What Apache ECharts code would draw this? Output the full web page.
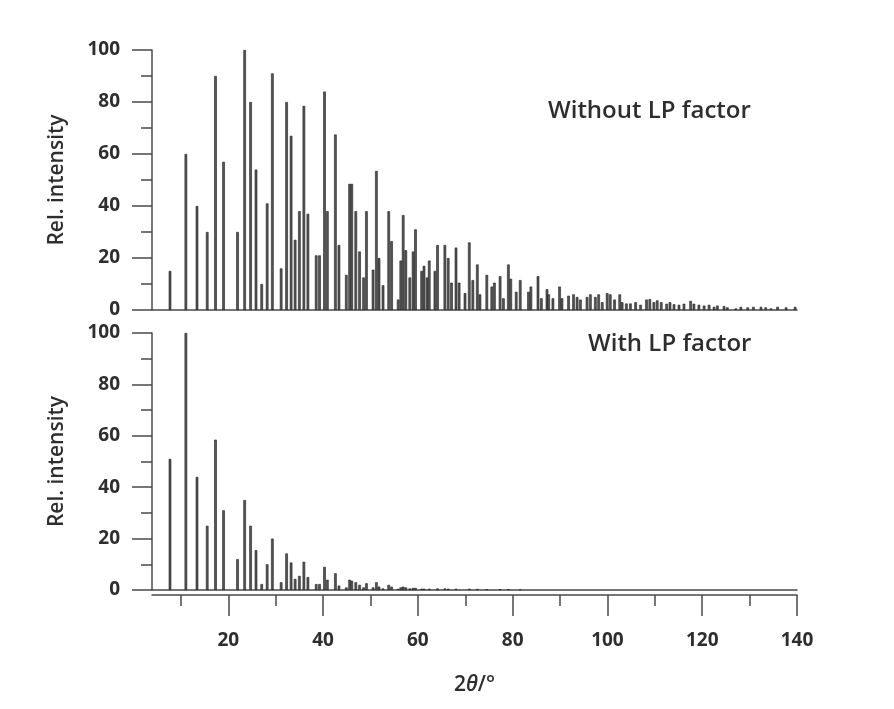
<!DOCTYPE html>
<html>
<head>
<meta charset="utf-8">
<script src="https://cdn.jsdelivr.net/npm/echarts@6/dist/echarts.min.js"></script>
<style>
html, body { margin: 0; padding: 0; background: #fff; }
#chart { width: 894px; height: 709px; }
</style>
</head>
<body>
<div id="chart"></div>
<script>
// peak positions (2theta / deg) and relative intensities
var theta = [7.7, 11.05, 13.4, 15.55, 17.3, 19.0, 21.95, 23.45, 24.7, 25.85, 27.05, 28.2, 29.3,
  31.15, 32.3, 33.25, 34.1, 35.0, 35.95, 36.8, 38.55, 39.25, 40.3, 40.9, 42.6, 43.35, 44.9,
  45.6, 46.05, 46.9, 47.7, 48.55, 49.15, 50.55, 51.25, 51.8, 52.65, 53.85, 54.45, 55.85, 56.4,
  56.9, 57.45, 58.3, 59.0, 59.5, 60.8, 61.3, 61.95, 62.4, 63.6, 64.15, 65.7, 66.4, 67.1, 68.05,
  68.7, 69.95, 70.85, 71.6, 72.55, 73.1, 74.55, 75.6, 76.15, 77.35, 78.05, 79.1, 79.6, 80.75,
  81.6, 83.35, 83.85, 85.35, 86.05, 87.25, 87.6, 88.5, 89.9, 90.4, 91.8, 92.85, 93.6, 94.3,
  95.7, 96.4, 97.45, 98.15, 98.9, 99.95, 100.6, 101.5, 102.6, 103.1, 104.0, 104.85, 105.95,
  107.0, 108.25, 108.95, 109.8, 110.5, 111.35, 112.5, 113.2, 114.05, 115.1, 116.15, 117.55,
  118.25, 119.3, 120.4, 121.45, 122.5, 123.2, 124.6, 125.3, 127.1, 128.15, 129.6, 130.8,
  132.4, 133.4, 134.5, 135.9, 137.7, 139.6];

var relNoLP = [15, 60, 40, 30, 90, 57, 30, 100, 80, 54, 10, 41, 91,
  16, 80, 67, 27, 38, 78.5, 37, 21, 21, 84, 38, 67.5, 25, 13.5,
  48.5, 48.5, 38, 22.5, 12.5, 38, 15.5, 53.5, 20, 9.5, 38, 26.5, 4, 19,
  36.5, 23, 12.5, 22.5, 31, 15, 17, 12.5, 19, 15, 25, 25, 20, 10.5, 24,
  10.5, 6.5, 26, 11.5, 17.5, 6, 13.5, 9, 10.5, 13, 4.5, 17.5, 12, 7,
  11.5, 7, 9, 13, 4.5, 8, 6, 4.5, 9, 4.5, 5.5, 6, 5, 4,
  5, 6, 5, 6, 3, 6.5, 6, 4, 6, 3, 2.5, 2.5, 3,
  2, 4, 4.2, 3, 3.7, 3, 2.4, 3, 2.2, 2, 2.4, 3.5,
  2.4, 2, 1.7, 2, 1.2, 1.7, 1.5, 1, 0.6, 1.2, 1, 1.2,
  1.2, 1, 0.6, 1.2, 1, 1.2];

var lpTheta = [7.7, 11.05, 13.4, 15.55, 17.3, 19.0, 21.95, 23.45, 24.7, 25.85, 27.05, 28.2, 29.3,
  31.15, 32.3, 33.25, 34.1, 35.0, 35.95, 36.8, 38.55, 39.25, 40.3, 40.9, 42.6, 43.35, 44.9,
  45.6, 46.05, 46.9, 47.7, 48.55, 49.15, 50.55, 51.25, 51.8, 52.65, 53.85, 54.45, 55.85, 56.4,
  56.9, 57.45, 58.3, 59.0, 59.5, 60.8, 61.3, 62.4, 64.15, 65.7, 66.4, 68.05, 70.85, 72.55,
  74.55, 77.35, 79.1, 81.6];

var relLP = [51, 100, 44, 25, 58.5, 31, 12, 35, 25, 15.5, 2.3, 10, 20,
  3, 14.2, 10.7, 4.3, 5.5, 11, 5, 2.3, 2.3, 9, 4, 6.5, 1.7, 1,
  4, 3.6, 3, 2, 1, 2.6, 1, 3, 1.3, 0.6, 2, 1.3, 0.4, 1,
  1.3, 1, 0.6, 0.8, 0.8, 0.5, 0.5, 0.5, 0.6, 0.6, 0.5, 0.5, 0.5, 0.4,
  0.3, 0.3, 0.3, 0.2];

var xMajor = [20, 40, 60, 80, 100, 120, 140];
var xMinor = [10, 30, 50, 70, 90, 110, 130];

var chart = echarts.init(document.getElementById('chart'));

var ink = '#2e2e2e';
var axisCol = '#4a4a4a';
var xMin = 3.9, xMax = 140;

function pairs(xs, ys) {
  return xs.map(function (x, i) { return [x, ys[i]]; });
}

function yAxisOf(idx) {
  return {
    gridIndex: idx,
    type: 'value',
    position: 'left',
    min: 0,
    max: 100,
    interval: 20,
    name: 'Rel. intensity',
    nameLocation: 'middle',
    nameGap: 84,
    nameTextStyle: { fontFamily: 'Open Sans', fontWeight: 600, fontSize: 21, color: ink },
    axisLine: { show: true, lineStyle: { color: axisCol, width: 1.5 } },
    axisTick: { show: true, length: 20, lineStyle: { color: axisCol, width: 1.5 } },
    minorTick: { show: true, splitNumber: 2, length: 11, lineStyle: { color: axisCol, width: 1.5 } },
    axisLabel: { margin: 32, fontFamily: 'Open Sans', fontWeight: 700, fontSize: 19, color: ink },
    splitLine: { show: false }
  };
}

var plainX = function (idx) {
  return {
    gridIndex: idx, type: 'value', position: 'bottom', min: xMin, max: xMax,
    axisLine: { show: true, onZero: false, lineStyle: { color: axisCol, width: 1.5 } },
    axisTick: { show: false }, axisLabel: { show: false }, splitLine: { show: false }
  };
};

var stickStyle = { color: '#555', borderColor: '#222', borderWidth: 0.6 };

var option = {
  backgroundColor: '#fff',
  animation: false,
  title: [
    { text: 'Without LP factor', left: 543, top: 94,
      textStyle: { fontFamily: 'Open Sans', fontWeight: 600, fontSize: 24, color: ink } },
    { text: 'With LP factor', left: 583, top: 327,
      textStyle: { fontFamily: 'Open Sans', fontWeight: 600, fontSize: 24, color: ink } }
  ],
  grid: [
    { left: 152, top: 50, width: 645, height: 260 },
    { left: 152, top: 333, width: 645, height: 257 }
  ],
  xAxis: [
    plainX(0),
    plainX(1),
    {
      gridIndex: 1, type: 'value', position: 'bottom', min: xMin, max: xMax, offset: 5,
      name: '2{i|θ}/°',
      nameLocation: 'middle',
      nameGap: 80,
      nameTextStyle: {
        fontFamily: 'Open Sans', fontWeight: 600, fontSize: 21, color: ink,
        rich: { i: { fontFamily: 'Open Sans', fontStyle: 'italic', fontWeight: 600, fontSize: 21, color: ink } }
      },
      axisLine: { show: true, onZero: false, lineStyle: { color: axisCol, width: 1.5 } },
      axisTick: { show: true, length: 21, customValues: xMajor, lineStyle: { color: axisCol, width: 1.5 } },
      axisLabel: { customValues: xMajor, margin: 36, fontFamily: 'Open Sans', fontWeight: 700, fontSize: 19, color: ink },
      splitLine: { show: false }
    },
    {
      gridIndex: 1, type: 'value', position: 'bottom', min: xMin, max: xMax, offset: 5,
      axisLine: { show: false, onZero: false },
      axisTick: { show: true, length: 11, customValues: xMinor, lineStyle: { color: axisCol, width: 1.5 } },
      axisLabel: { show: false },
      splitLine: { show: false }
    }
  ],
  yAxis: [yAxisOf(0), yAxisOf(1)],
  series: [
    {
      type: 'bar', xAxisIndex: 0, yAxisIndex: 0,
      barWidth: 2.6, itemStyle: stickStyle,
      data: pairs(theta, relNoLP)
    },
    {
      type: 'bar', xAxisIndex: 1, yAxisIndex: 1,
      barWidth: 2.6, itemStyle: stickStyle,
      data: pairs(lpTheta, relLP)
    }
  ]
};

chart.setOption(option);
</script>
</body>
</html>
